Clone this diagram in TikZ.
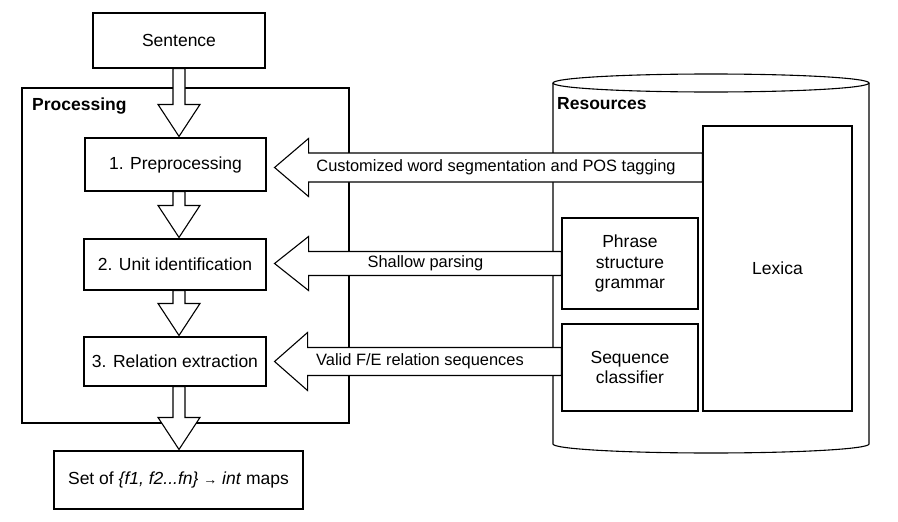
\documentclass[tikz,border=0pt]{standalone}
\usepackage{fontspec}
\setmainfont{Liberation Sans}
\usetikzlibrary{calc}
\newcommand\fsz{\fontsize{17.5}{20.5}\selectfont}
\newcommand\fsa{\fontsize{16.4}{19}\selectfont}
\tikzset{
  box/.style={draw, line width=1.1pt, fill=white, inner sep=0pt, align=center, font=\fsz},
  blk/.style={draw, line width=1.1pt, fill=white, line join=miter},
  lbl/.style={inner sep=0pt, font=\fsa},
  hdr/.style={inner sep=0pt, anchor=west, font=\fsz\bfseries},
  outline/.style={draw, line width=1.1pt}
}
\newcommand\vblock[2]{\draw[blk] let \p1=(#1.south), \p2=(#2.north), \p3=(ax) in
  (\x3-6pt,\y1) -- (\x3+6pt,\y1) -- (\x3+6pt,\y2+33pt) -- (\x3+21pt,\y2+33pt) -- (\x3,\y2+1pt)
  -- (\x3-21pt,\y2+33pt) -- (\x3-6pt,\y2+33pt) -- cycle;}
\newcommand\hblock[6]{\draw[blk] let \p1=(#1.east), \p2=(#2.west), \p3=(#3) in
  (\x2,\y3+#4) -- (\x1+8pt+#6,\y3+#4) -- (\x1+8pt+#6,\y3+#5) -- (\x1+8pt,\y3)
  -- (\x1+8pt+#6,\y3-#5) -- (\x1+8pt+#6,\y3-#4) -- (\x2,\y3-#4) -- cycle;}
\begin{document}
\begin{tikzpicture}[x=1pt, y=-1pt]
\useasboundingbox[fill=white] (0,0) rectangle (898,522);
% Processing container
\node[box, minimum width=327pt, minimum height=335pt] (proc) at (185.5,255.5) {};
\node[hdr] (proct) at (32,106) {Processing};
% Resources cylinder
\draw[outline, fill=white] (553,83) -- (553,444) arc[start angle=180, end angle=360, x radius=158pt, y radius=9pt] -- (869,83);
\draw[outline] (711,83) ellipse[x radius=158pt, y radius=9pt];
\node[hdr] (rest) at (557,104) {Resources};
\node[box, minimum width=149pt, minimum height=285pt] (lex) at (777.5,268.5) {Lexica};
\node[box, minimum width=136pt, minimum height=91pt] (phr) at (630,263.5) {Phrase\\structure\\grammar};
\node[box, minimum width=136pt, minimum height=87pt] (seq) at (630,367.5) {Sequence\\classifier};
% Processing steps
\node[box, minimum width=172pt, minimum height=55pt] (sent) at (179,40.5) {Sentence};
\node[box, minimum width=181pt, minimum height=53pt] (pre) at (175.5,164.5) {1. Preprocessing};
\node[box, minimum width=182pt, minimum height=51pt] (unit) at (175,264.5) {2. Unit identification};
\node[box, minimum width=182pt, minimum height=49pt] (rel) at (175,361.5) {3. Relation extraction};
\node[box, minimum width=249pt, minimum height=58pt] (out) at (178.5,480) {Set of \textit{\{f1, f2...fn\}} {\fontsize{14}{14}\selectfont →} \textit{int} maps};
\coordinate (ax) at (179,0);
% vertical block arrows
\vblock{sent}{pre}
\vblock{pre}{unit}
\vblock{unit}{rel}
\vblock{rel}{out}
% horizontal block arrows
\coordinate (y1) at (0,167.5);
\coordinate (y2) at (0,263.5);
\coordinate (y3) at (0,361.5);
\hblock{pre}{lex}{y1}{14.5pt}{29pt}{34pt}
\hblock{unit}{phr}{y2}{12pt}{27pt}{34pt}
\hblock{rel}{seq}{y3}{14pt}{29pt}{33pt}
\node[lbl] (t1) at (496,167.5) {Customized word segmentation and POS tagging};
\node[lbl] (t2) at (425.5,263.5) {Shallow parsing};
\node[lbl] (t3) at (420,361.5) {Valid F/E relation sequences};
\end{tikzpicture}
\end{document}
